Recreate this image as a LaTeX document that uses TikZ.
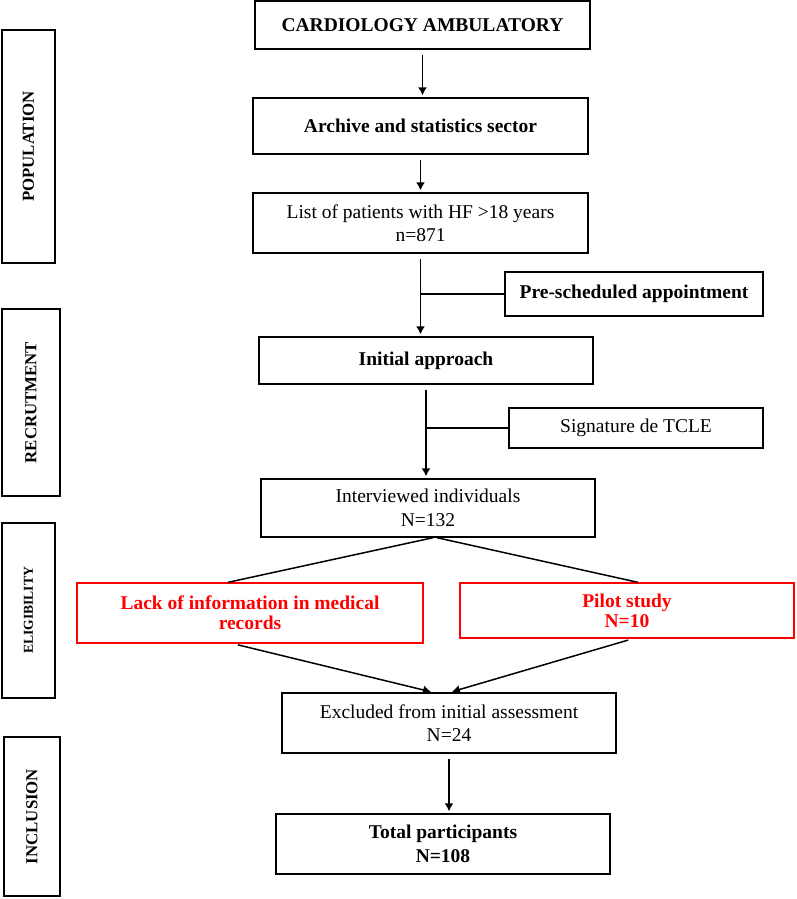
\documentclass[tikz,border=0pt]{standalone}
\usepackage{fontspec}
\setmainfont{Liberation Serif}
\usetikzlibrary{calc,arrows.meta}
\tikzset{
  box/.style={draw,line width=1.4pt,align=center,inner sep=2pt,font=\fontsize{19.5}{23.5}\selectfont},
  redbox/.style={box,draw=red,line width=1.3pt,text=red,font=\fontsize{19.5}{20}\selectfont\bfseries},
  phasebox/.style={draw,line width=1.4pt,rotate=90,font=\fontsize{16.8}{20}\selectfont\bfseries},
  line/.style={line width=1.5pt}
}
\newcommand{\stage}[6]{\node[box,minimum width=#4pt,minimum height=#5pt] (#1) at (#2,#3) {#6};}
\newcommand{\phase}[6]{\node[phasebox,minimum width=#5pt,minimum height=#4pt] (#1) at (#2,#3) {#6};}
\newcommand{\link}[2]{\draw[line,-{Latex[length=8pt,width=9pt]},shorten <=5pt,shorten >=2pt] (#1) -- (#2);}
\newcommand{\branch}[2]{\draw[line] (#1) -- (#2);}

\begin{document}
\begin{tikzpicture}[x=1pt,y=-1pt]
    \useasboundingbox (0,0) rectangle (796,899);
    \phase{pop}{28.5}{146.5}{53}{233}{POPULATION}
    \phase{rec}{31}{402.5}{58}{187}{RECRUTMENT}
    \phase{elig}{28.5}{610.5}{53}{175}{\fontsize{13.6}{15}\selectfont ELIGIBILITY}
    \phase{incl}{32}{816.5}{56}{159}{INCLUSION}

    \stage{card}{422.5}{25}{335}{48}{\textbf{CARDIOLOGY AMBULATORY}}
    \stage{arch}{420.5}{126}{335}{56}{\textbf{Archive and statistics sector}}
    \stage{list}{420.5}{223}{335}{60}{List of patients with HF >18 years\\n=871}
    \stage{pre}{634}{294}{258}{44}{\textbf{Pre-scheduled appointment}}
    \stage{init}{426}{360.5}{334}{47}{\textbf{Initial approach}}
    \stage{tcle}{636}{428}{254}{40}{Signature de TCLE}
    \stage{intv}{428}{508}{334}{58}{Interviewed individuals\\N=132}
    \node[redbox,minimum width=346pt,minimum height=60pt] (lack) at (250,613) {Lack of information in medical\\records};
    \node[redbox,minimum width=334pt,minimum height=55pt] (pilot) at (627,610.5) {Pilot study\\N=10};
    \stage{excl}{449}{723}{334}{60}{Excluded from initial assessment\\N=24}
    \stage{total}{443}{844}{334}{60}{\textbf{Total participants}\\\textbf{N=108}}

    \link{card.south}{card.south |- arch.north}
    \link{arch.south}{arch.south |- list.north}
    \link{list.south}{list.south |- init.north}
    \branch{pre.west}{pre.west -| list.south}
    \link{init.south}{init.south |- intv.north}
    \branch{tcle.west}{tcle.west -| init.south}
    \branch{$(intv.south)+(5,0)$}{$(lack.north)+(-22,0)$}
    \branch{$(intv.south)+(9,0)$}{$(pilot.north)+(11,0)$}
    \link{$(lack.south)+(-17,0)$}{$(excl.north)+(-16,0)$}
    \link{$(pilot.south)+(6,0)$}{$(excl.north)+(1,0)$}
    \link{excl.south}{excl.south |- total.north}
\end{tikzpicture}
\end{document}
